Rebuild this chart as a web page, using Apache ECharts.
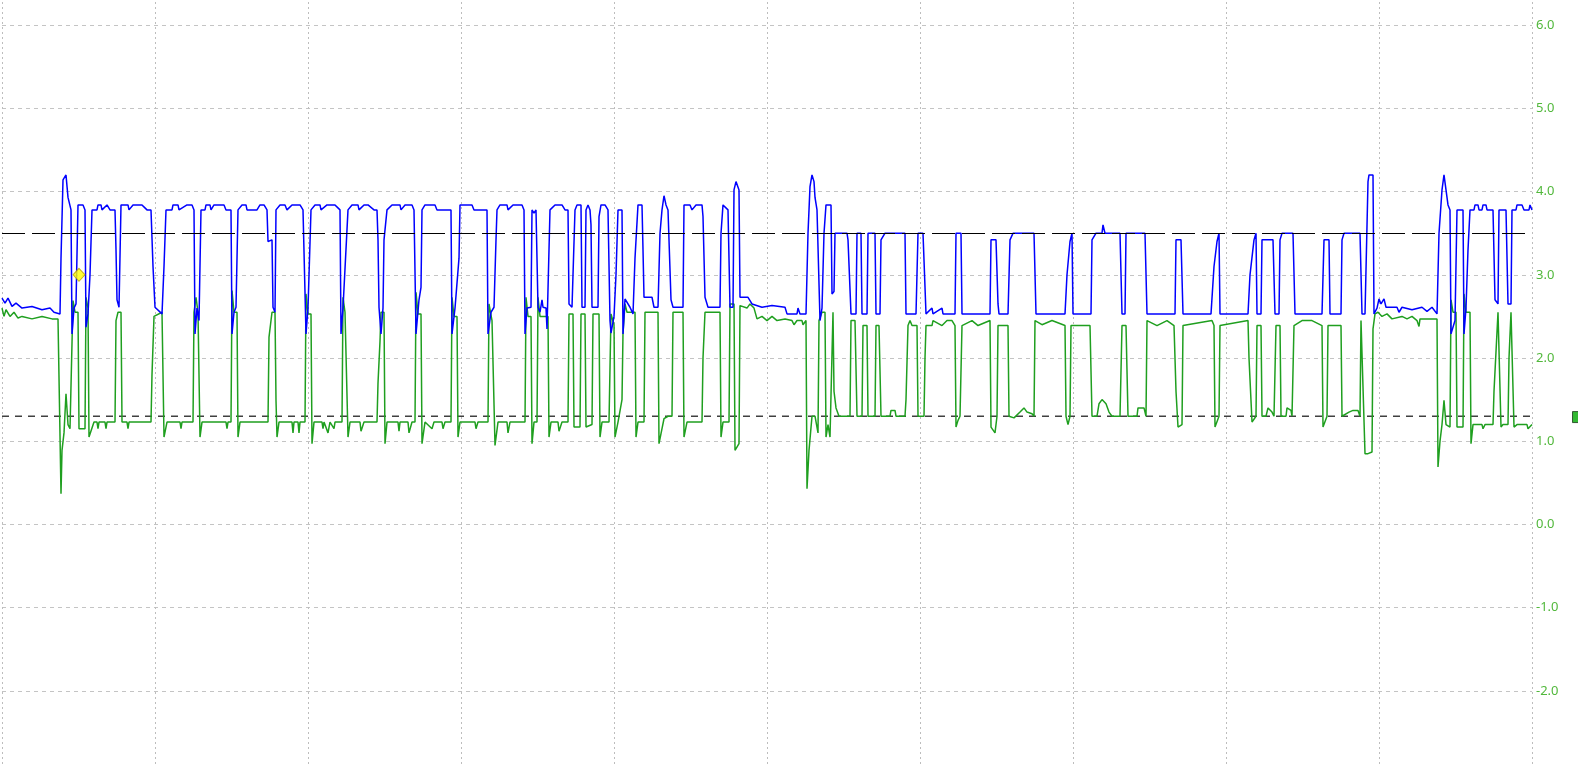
<!DOCTYPE html>
<html>
<head>
<meta charset="utf-8">
<script src="https://cdn.jsdelivr.net/npm/echarts@6/dist/echarts.min.js"></script>
<style>
  html, body { margin: 0; padding: 0; background: #fff; }
  #scope { width: 1578px; height: 767px; }
</style>
</head>
<body>
<div id="scope"></div>
<script>
// time in samples (153 per division), voltage in V
const blueTrace = [
  [0,2.72],[3,2.66],[6,2.72],[10,2.62],[14,2.66],[20,2.6],[30,2.62],[40,2.58],[48,2.6],[52,2.55],[58,2.53],
  [59,3.2],[61,4.14],[64,4.2],[66,3.93],[69,3.78],[70,2.29],[72,2.6],[74,2.65],[76,3.84],[81,3.84],[83,3.78],
  [84,2.37],[86,2.53],[88,3.0],[90,3.78],[95,3.78],[96,3.84],[99,3.84],[100,3.78],[105,3.84],[108,3.78],[113,3.78],
  [114,3.3],[115,2.7],[117,2.61],[118,2.61],[119,3.84],[122,3.84],[126,3.84],[127,3.78],[131,3.84],[140,3.84],
  [145,3.78],[149,3.78],[151,3.1],[153,2.61],[160,2.53],[162,3.1],[164,3.78],[170,3.78],[171,3.84],[176,3.84],
  [177,3.78],[185,3.84],[190,3.84],[192,3.78],[193,2.29],[195,2.6],[197,2.45],[199,3.78],[203,3.78],[204,3.84],
  [208,3.84],[209,3.78],[212,3.84],[222,3.84],[224,3.78],[229,3.78],[230,2.29],[232,2.55],[234,2.61],[236,3.78],
  [240,3.84],[244,3.84],[245,3.78],[255,3.78],[258,3.84],[262,3.84],[265,3.78],[266,3.4],[270,3.42],[271,2.61],
  [273,2.55],[274,3.78],[278,3.84],[283,3.84],[285,3.78],[290,3.84],[298,3.84],[301,3.78],[303,3.78],[304,2.29],
  [306,2.6],[307,2.61],[309,3.78],[313,3.84],[318,3.84],[319,3.78],[325,3.84],[333,3.84],[338,3.78],[339,2.29],
  [341,2.6],[343,2.61],[346,3.78],[350,3.84],[356,3.84],[357,3.78],[362,3.84],[366,3.84],[372,3.78],[375,3.78],
  [376,3.42],[377,2.61],[379,2.29],[381,2.6],[382,3.42],[385,3.78],[390,3.84],[398,3.84],[399,3.78],[403,3.84],
  [410,3.84],[412,3.78],[413,3.78],[414,2.29],[417,2.7],[419,2.85],[420,3.78],[423,3.84],[433,3.84],[435,3.78],
  [449,3.78],[450,2.29],[453,2.6],[455,2.61],[457,3.2],[458,3.84],[470,3.84],[472,3.78],[485,3.78],[486,2.29],
  [489,2.55],[492,2.61],[494,3.42],[495,3.78],[498,3.84],[505,3.84],[506,3.78],[511,3.84],[520,3.84],[522,3.78],
  [523,2.29],[525,2.6],[529,2.61],[530,3.78],[532,3.74],[534,3.78],[536,2.61],[538,2.55],[540,2.7],[541,2.61],
  [544,2.6],[545,2.35],[548,3.78],[553,3.84],[560,3.84],[563,3.78],[566,3.78],[567,2.65],[570,2.61],[572,2.61],
  [573,3.78],[575,3.84],[579,3.84],[580,2.61],[583,2.61],[584,3.78],[586,3.84],[588,3.78],[589,3.6],[590,2.61],
  [596,2.61],[597,3.7],[599,3.84],[603,3.84],[606,3.78],[608,2.45],[609,2.3],[612,2.5],[614,3.0],[616,3.78],
  [620,3.78],[621,2.29],[623,2.71],[628,2.61],[631,2.53],[633,3.2],[636,3.84],[640,3.84],[641,3.3],[642,2.73],
  [650,2.73],[652,2.61],[656,2.61],[658,3.5],[660,3.78],[662,3.95],[664,3.84],[666,3.78],[669,2.7],[671,2.61],
  [681,2.61],[682,3.84],[688,3.84],[690,3.78],[694,3.84],[700,3.84],[701,3.7],[703,2.73],[706,2.61],[718,2.61],
  [719,3.5],[721,3.84],[726,3.78],[728,2.61],[731,2.61],[732,4.02],[734,4.12],[737,4.02],[738,2.73],[746,2.73],
  [750,2.65],[760,2.61],[770,2.63],[783,2.61],[785,2.53],[795,2.53],[796,2.6],[798,2.53],[804,2.53],[806,3.5],
  [808,4.06],[810,4.2],[812,4.12],[813,3.93],[815,3.78],[817,3.78],[818,2.45],[820,2.6],[822,3.5],[824,3.84],
  [829,3.84],[830,2.77],[832,2.8],[833,3.5],[845,3.5],[846,3.42],[848,3.42],[849,2.53],[854,2.53],[855,3.5],
  [859,3.5],[860,2.53],[865,2.53],[866,3.5],[873,3.5],[874,2.53],[878,2.53],[879,3.42],[883,3.5],[903,3.5],
  [904,2.53],[914,2.53],[916,3.5],[921,3.5],[924,2.53],[930,2.6],[931,2.53],[940,2.6],[941,2.53],[953,2.53],
  [954,3.5],[959,3.5],[960,2.53],[988,2.53],[989,3.42],[994,3.42],[996,2.65],[997,2.53],[1006,2.53],[1008,3.42],
  [1011,3.5],[1032,3.5],[1034,2.53],[1063,2.53],[1065,3.0],[1068,3.4],[1070,3.5],[1071,2.53],[1089,2.53],
  [1090,3.42],[1094,3.5],[1100,3.5],[1101,3.6],[1103,3.5],[1118,3.5],[1120,2.53],[1123,2.53],[1124,3.5],
  [1143,3.5],[1145,2.53],[1173,2.53],[1174,3.42],[1179,3.42],[1181,2.53],[1209,2.53],[1212,3.1],[1215,3.4],
  [1217,3.5],[1218,2.53],[1246,2.53],[1248,3.0],[1252,3.42],[1254,3.5],[1255,2.53],[1259,2.53],[1260,3.42],
  [1271,3.42],[1273,2.53],[1277,2.53],[1278,3.42],[1280,3.5],[1291,3.5],[1293,2.53],[1320,2.53],[1322,3.42],
  [1327,3.42],[1328,2.53],[1339,2.53],[1340,3.42],[1342,3.5],[1358,3.5],[1360,2.53],[1363,2.53],[1366,4.12],
  [1367,4.2],[1371,4.2],[1372,2.53],[1375,2.6],[1377,2.71],[1379,2.65],[1382,2.71],[1384,2.61],[1395,2.61],
  [1397,2.55],[1400,2.61],[1410,2.58],[1420,2.61],[1425,2.56],[1430,2.61],[1435,2.53],[1437,3.5],[1440,4.02],
  [1442,4.2],[1444,4.02],[1446,3.84],[1448,3.78],[1449,2.29],[1453,2.45],[1455,3.78],[1461,3.78],[1462,2.29],
  [1464,2.6],[1466,3.3],[1468,3.78],[1472,3.78],[1473,3.84],[1476,3.84],[1477,3.78],[1480,3.78],[1481,3.84],
  [1484,3.84],[1485,3.78],[1491,3.78],[1493,2.7],[1496,2.65],[1497,3.78],[1504,3.78],[1506,2.65],[1509,2.65],
  [1510,3.78],[1514,3.78],[1515,3.84],[1520,3.84],[1522,3.78],[1527,3.78],[1528,3.84],[1530,3.78]
];

const greenTrace = [
  [0,2.6],[2,2.5],[4,2.58],[8,2.5],[12,2.55],[16,2.48],[20,2.5],[30,2.47],[40,2.5],[50,2.47],[56,2.47],[58,2.45],
  [59,0.37],[60,0.89],[62,1.1],[64,1.57],[66,1.2],[68,1.15],[70,1.15],[71,2.69],[73,2.55],[76,2.55],[77,1.15],
  [83,1.15],[84,2.73],[86,2.6],[87,1.05],[92,1.23],[95,1.23],[96,1.15],[97,1.23],[103,1.23],[104,1.15],[105,1.23],
  [113,1.23],[114,2.45],[116,2.55],[119,2.55],[120,1.23],[125,1.23],[126,1.15],[127,1.23],[149,1.23],[150,1.8],
  [152,2.5],[160,2.55],[162,1.05],[165,1.23],[178,1.23],[179,1.15],[180,1.23],[191,1.23],[192,2.55],[194,2.73],
  [196,2.55],[198,1.05],[200,1.23],[224,1.23],[225,1.15],[226,1.23],[229,1.23],[230,2.81],[232,2.55],[235,2.55],
  [236,1.05],[238,1.23],[266,1.23],[267,2.25],[270,2.55],[273,2.55],[274,1.49],[275,1.05],[277,1.23],[290,1.23],
  [291,1.1],[292,1.23],[296,1.23],[297,1.1],[298,1.23],[303,1.23],[304,2.77],[306,2.53],[309,2.53],[310,0.97],
  [312,1.23],[320,1.23],[321,1.15],[322,1.23],[326,1.1],[328,1.23],[332,1.15],[333,1.23],[340,1.23],[341,2.73],
  [343,2.55],[345,2.55],[346,1.05],[348,1.23],[358,1.23],[359,1.12],[362,1.23],[375,1.23],[376,1.7],[378,2.2],
  [379,2.55],[382,2.55],[383,0.97],[385,1.23],[396,1.23],[397,1.12],[398,1.23],[406,1.23],[407,1.1],[410,1.23],
  [413,1.23],[414,2.79],[416,2.53],[419,2.53],[420,0.97],[423,1.23],[430,1.15],[432,1.23],[440,1.23],[441,1.15],
  [443,1.23],[449,1.23],[450,2.73],[452,2.5],[455,2.5],[456,1.05],[458,1.23],[473,1.23],[474,1.15],[476,1.23],
  [486,1.23],[487,2.65],[490,2.45],[492,2.45],[493,0.95],[496,1.23],[505,1.23],[506,1.1],[508,1.23],[523,1.23],
  [524,2.73],[526,2.5],[529,2.5],[530,0.97],[532,1.23],[535,1.23],[536,2.73],[538,2.5],[546,2.5],[547,1.05],
  [549,1.23],[556,1.23],[557,1.12],[560,1.23],[566,1.23],[567,2.53],[571,2.53],[572,1.17],[578,1.17],[579,2.53],
  [583,2.53],[584,1.17],[590,1.2],[591,2.53],[597,2.53],[598,1.05],[600,1.23],[607,1.23],[609,2.53],[612,2.4],
  [613,1.05],[615,1.17],[616,1.23],[620,1.5],[621,2.3],[623,2.65],[625,2.55],[633,2.55],[634,1.05],[636,1.23],
  [642,1.23],[643,2.55],[656,2.55],[657,0.97],[660,1.15],[662,1.27],[666,1.3],[670,1.3],[671,2.55],[681,2.55],
  [682,1.05],[685,1.23],[700,1.23],[701,2.0],[703,2.55],[718,2.55],[719,1.05],[721,1.23],[727,1.23],[728,2.65],
  [732,2.65],[733,0.89],[737,0.97],[738,2.63],[745,2.6],[748,2.65],[752,2.6],[755,2.47],[760,2.5],[765,2.45],
  [770,2.5],[775,2.45],[783,2.47],[790,2.45],[792,2.4],[795,2.45],[800,2.45],[801,2.4],[804,2.45],[805,0.43],
  [807,0.89],[810,1.3],[813,1.3],[816,1.1],[817,2.45],[820,2.55],[823,2.55],[824,1.05],[826,1.2],[828,1.05],
  [830,1.05],[831,2.55],[832,1.6],[834,1.4],[837,1.3],[848,1.3],[849,2.45],[853,2.45],[855,1.3],[860,1.3],
  [861,2.39],[865,2.39],[866,1.3],[873,1.3],[874,2.39],[877,2.39],[879,1.3],[888,1.3],[889,1.37],[893,1.37],
  [894,1.3],[903,1.3],[904,1.5],[906,2.39],[908,2.45],[910,2.39],[915,2.39],[916,1.3],[922,1.3],[923,2.0],
  [924,2.39],[930,2.39],[931,2.45],[940,2.39],[945,2.45],[950,2.45],[953,2.39],[954,1.17],[956,1.25],[958,1.3],
  [960,2.39],[970,2.45],[976,2.39],[988,2.45],[989,1.17],[993,1.1],[995,1.3],[996,2.39],[1006,2.39],[1007,1.3],
  [1012,1.28],[1018,1.35],[1022,1.4],[1025,1.35],[1030,1.33],[1032,1.3],[1033,2.45],[1040,2.4],[1050,2.45],
  [1063,2.39],[1064,1.3],[1066,1.2],[1068,1.3],[1069,2.39],[1088,2.39],[1090,1.3],[1095,1.3],[1097,1.45],
  [1100,1.5],[1104,1.45],[1107,1.35],[1110,1.3],[1118,1.3],[1120,2.39],[1124,2.39],[1126,1.3],[1135,1.3],
  [1136,1.4],[1142,1.4],[1144,1.3],[1145,2.45],[1155,2.39],[1165,2.45],[1172,2.39],[1174,1.6],[1176,1.17],
  [1180,1.2],[1181,2.39],[1210,2.45],[1212,2.39],[1213,1.17],[1217,1.3],[1218,2.39],[1246,2.45],[1247,2.0],
  [1250,1.23],[1254,1.3],[1255,2.39],[1259,2.39],[1260,1.3],[1264,1.3],[1266,1.4],[1270,1.35],[1272,1.3],
  [1274,2.39],[1278,2.39],[1279,1.3],[1284,1.3],[1285,1.4],[1289,1.37],[1290,1.3],[1292,2.39],[1300,2.45],
  [1310,2.45],[1320,2.39],[1321,1.17],[1325,1.3],[1326,2.39],[1339,2.39],[1340,1.3],[1347,1.35],[1351,1.37],
  [1356,1.37],[1358,1.3],[1359,2.45],[1361,2.45],[1363,0.85],[1366,0.85],[1370,0.87],[1371,2.35],[1373,2.53],
  [1376,2.55],[1380,2.5],[1385,2.53],[1390,2.47],[1400,2.5],[1405,2.47],[1410,2.5],[1415,2.45],[1417,2.38],
  [1418,2.47],[1425,2.47],[1435,2.47],[1436,0.69],[1438,1.0],[1440,1.2],[1442,1.49],[1444,1.2],[1448,1.17],
  [1449,2.7],[1451,2.55],[1454,2.55],[1455,1.17],[1461,1.17],[1462,2.77],[1464,2.55],[1468,2.55],[1469,0.97],
  [1471,1.2],[1480,1.2],[1481,1.15],[1483,1.2],[1491,1.2],[1492,1.6],[1496,2.55],[1498,2.55],[1499,1.17],
  [1501,1.2],[1506,1.2],[1507,2.0],[1509,2.55],[1511,2.55],[1512,1.17],[1515,1.2],[1525,1.2],[1526,1.15],[1530,1.2]
];

// reference levels and markers
const upperLevel = 3.5;
const triggerLevel = 1.3;
const triggerLine = [[0, triggerLevel], [1570, triggerLevel]];
const triggerMarker = [[1576, 1.29]];
const cursorMarker = [[77, 3.0]];

const chart = echarts.init(document.getElementById('scope'));

chart.setOption({
  animation: false,
  backgroundColor: '#ffffff',
  // grid runs past the canvas so the 7.0 and -3.0 rows fall outside the picture
  grid: { left: 2, right: 46, top: -58, bottom: -7, outerBoundsMode: 'none', containLabel: false },
  xAxis: {
    type: 'value',
    min: 0,
    max: 1530,
    interval: 153,
    axisLine: { show: false },
    axisTick: { show: false },
    axisLabel: { show: false },
    splitLine: { show: true, lineStyle: { color: '#bdbdbd', type: [2, 3], width: 1 } }
  },
  yAxis: {
    type: 'value',
    position: 'right',
    min: -3,
    max: 7,
    interval: 1,
    axisLine: { show: false },
    axisTick: { show: false },
    axisLabel: {
      margin: 4,
      color: '#52b83c',
      fontFamily: 'Noto Sans',
      fontSize: 13,
      formatter: v => v.toFixed(1)
    },
    splitLine: { show: true, lineStyle: { color: '#c4c4c4', type: [4, 4], width: 1 } }
  },
  series: [
    {
      name: 'green',
      type: 'line',
      data: greenTrace,
      showSymbol: false,
      symbol: 'none',
      lineStyle: { color: '#1f9f1f', width: 1.5 },
      z: 3
    },
    {
      name: 'blue',
      type: 'line',
      data: blueTrace,
      showSymbol: false,
      symbol: 'none',
      lineStyle: { color: '#0000ff', width: 1.5 },
      z: 4,
      markLine: {
        silent: true,
        symbol: 'none',
        label: { show: false },
        lineStyle: { color: '#000000', type: [23, 7], width: 1.2 },
        data: [{ yAxis: upperLevel }]
      }
    },
    {
      name: 'trigger',
      type: 'line',
      data: triggerLine,
      clip: false,
      showSymbol: false,
      symbol: 'none',
      lineStyle: { color: '#404040', type: [7, 6], width: 1.3 },
      z: 2
    },
    {
      name: 'triggerMark',
      type: 'scatter',
      data: triggerMarker,
      clip: false,
      symbol: 'rect',
      symbolSize: 11,
      itemStyle: { color: '#00a800', borderColor: '#1a3a1a', borderWidth: 1 },
      z: 6
    },
    {
      name: 'cursor',
      type: 'scatter',
      data: cursorMarker,
      symbol: 'diamond',
      symbolSize: [12, 13],
      itemStyle: { color: '#ffff00', borderColor: '#b8a000', borderWidth: 1 },
      z: 7
    }
  ]
});
</script>
</body>
</html>
